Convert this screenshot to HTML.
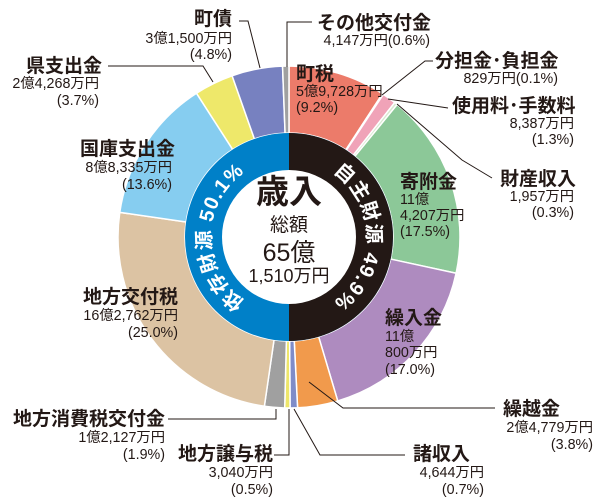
<!DOCTYPE html>
<html><head><meta charset="utf-8"><style>
body{margin:0;background:#fff;}
svg{display:block;font-family:"Liberation Sans","Noto Sans CJK JP",sans-serif;}
.t{font-size:19px;font-weight:bold;fill:#231815;}
.v{font-size:14.3px;fill:#231815;}
.l{stroke:#231815;stroke-width:1;fill:none;}
</style></head><body>
<svg id="s" width="601" height="501" viewBox="0 0 601 501" xmlns="http://www.w3.org/2000/svg">
<g id="slices"></g>
<circle cx="289" cy="237" r="104" fill="#0080c8"/>
<path d="M289,133 A104,104 0 0 1 289,341 Z" fill="#231815"/>
<circle cx="289" cy="237" r="67" fill="#fff"/>
<defs>
<path id="ar" d="M289,159 A78,78 0 0 1 289,315"/>
<path id="al" d="M289,315 A78,78 0 0 1 289,159"/>
</defs>
<text font-size="20" font-weight="bold" fill="#fff" letter-spacing="1"><textPath href="#ar" startOffset="50%" text-anchor="middle">自主財源 49.9%</textPath></text>
<text font-size="20" font-weight="bold" fill="#fff" letter-spacing="1"><textPath href="#al" startOffset="50%" text-anchor="middle">依存財源 50.1%</textPath></text>
<text x="289" y="203" text-anchor="middle" font-size="33" font-weight="bold" fill="#231815">歳入</text>
<text x="289" y="231" text-anchor="middle" font-size="19" fill="#231815">総額</text>
<text x="289" y="261" text-anchor="middle" font-size="25" fill="#231815">65億</text>
<text x="289" y="282" text-anchor="middle" font-size="18" fill="#231815">1,510万円</text>

<text class="t" x="232" y="25" text-anchor="end">町債</text>
<text class="v" x="232" y="43" text-anchor="end">3億1,500万円</text>
<text class="v" x="232" y="59" text-anchor="end">(4.8%)</text>
<polyline class="l" points="239,21 248,21 260,68"/>
<text class="t" x="102" y="72" text-anchor="end">県支出金</text>
<text class="v" x="99" y="88" text-anchor="end">2億4,268万円</text>
<text class="v" x="99" y="105" text-anchor="end">(3.7%)</text>
<polyline class="l" points="108,66 203,66 213,82"/>
<text class="t" x="175" y="155" text-anchor="end">国庫支出金</text>
<text class="v" x="172" y="172" text-anchor="end">8億8,335万円</text>
<text class="v" x="172" y="189" text-anchor="end">(13.6%)</text>
<text class="t" x="178" y="303" text-anchor="end">地方交付税</text>
<text class="v" x="178" y="320" text-anchor="end">16億2,762万円</text>
<text class="v" x="178" y="337" text-anchor="end">(25.0%)</text>
<text class="t" x="165" y="425" text-anchor="end">地方消費税交付金</text>
<text class="v" x="165" y="442" text-anchor="end">1億2,127万円</text>
<text class="v" x="165" y="459" text-anchor="end">(1.9%)</text>
<polyline class="l" points="168,419 276,419 276,409"/>
<text class="t" x="273" y="460" text-anchor="end">地方譲与税</text>
<text class="v" x="273" y="477" text-anchor="end">3,040万円</text>
<text class="v" x="273" y="494" text-anchor="end">(0.5%)</text>
<polyline class="l" points="274,455 289,455 289,409"/>
<text class="t" x="470" y="460" text-anchor="end">諸収入</text>
<text class="v" x="484" y="477" text-anchor="end">4,644万円</text>
<text class="v" x="484" y="494" text-anchor="end">(0.7%)</text>
<polyline class="l" points="294,409 320,455 405,455"/>
<text class="t" x="560" y="415" text-anchor="end">繰越金</text>
<text class="v" x="593" y="432" text-anchor="end">2億4,779万円</text>
<text class="v" x="593" y="449" text-anchor="end">(3.8%)</text>
<polyline class="l" points="309,382 343,408 495,408"/>
<text class="t" x="385" y="324">繰入金</text>
<text class="v" x="385" y="341">11億</text>
<text class="v" x="385" y="357">800万円</text>
<text class="v" x="385" y="374">(17.0%)</text>
<text class="t" x="400" y="188">寄附金</text>
<text class="v" x="400" y="204">11億</text>
<text class="v" x="400" y="220">4,207万円</text>
<text class="v" x="400" y="236">(17.5%)</text>
<text class="t" x="296" y="80">町税</text>
<text class="v" x="296" y="96" font-size="13">5億9,728万円</text>
<text class="v" x="296" y="112">(9.2%)</text>
<text class="t" x="317" y="29">その他交付金</text>
<text class="v" x="430" y="45" text-anchor="end">4,147万円(0.6%)</text>
<polyline class="l" points="287,67 287,22 312,22"/>
<text class="t" x="435" y="67">分担金･負担金</text>
<text class="v" x="558" y="83" text-anchor="end">829万円(0.1%)</text>
<polyline class="l" points="382,95 425,61 433,61"/>
<text class="t" x="452" y="112">使用料･手数料</text>
<text class="v" x="574" y="128" text-anchor="end">8,387万円</text>
<text class="v" x="574" y="144" text-anchor="end">(1.3%)</text>
<polyline class="l" points="388,99 448,108"/>
<text class="t" x="500" y="185">財産収入</text>
<text class="v" x="574" y="201" text-anchor="end">1,957万円</text>
<text class="v" x="574" y="217" text-anchor="end">(0.3%)</text>
<polyline class="l" points="397,104 462,160 492,178"/>
</svg>
<script>
var d=[[9.2,"#ec7b6a"],[0.1,"#f5c6d3"],[1.3,"#f0a3b8"],[0.3,"#d8e8d0"],[17.5,"#8cc898"],[17.0,"#ae8bbf"],[3.8,"#f19a4c"],[0.7,"#7f8cc8"],[0.5,"#eee66a"],[1.9,"#a0a0a0"],[25.0,"#dcc3a3"],[13.6,"#86cdf0"],[3.7,"#eee86a"],[4.8,"#7781c0"],[0.6,"#a0a0a0"]];
var cx=289,cy=237,R=171,r=104,a=0,g=document.getElementById("slices"),h="";
function p(rad,ang){return (cx+rad*Math.sin(ang)).toFixed(2)+","+(cy-rad*Math.cos(ang)).toFixed(2);}
d.forEach(function(s){var a0=a*Math.PI*2/100;a+=s[0];var a1=a*Math.PI*2/100;var lg=(a1-a0)>Math.PI?1:0;
h+='<path d="M'+p(r,a0)+' L'+p(R,a0)+' A'+R+','+R+' 0 '+lg+' 1 '+p(R,a1)+' L'+p(r,a1)+' A'+r+','+r+' 0 '+lg+' 0 '+p(r,a0)+' Z" fill="'+s[1]+'" stroke="#fff" stroke-width="1.5"/>';});
g.innerHTML=h;
</script>
</body></html>
